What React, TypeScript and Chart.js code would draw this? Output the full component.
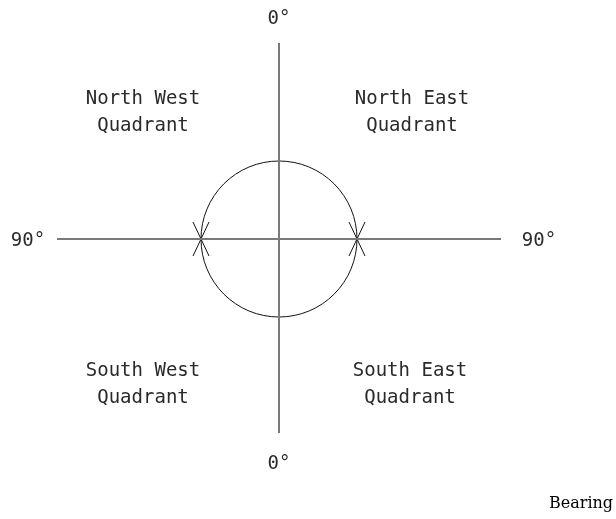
import React, { useEffect, useRef } from "react";
import { Chart, registerables } from "chart.js";

Chart.register(...registerables);

// Data units: origin at the compass centre, y pointing up (1 unit = 1 px)
const xRange = [-279, 337];
const yRange = [-280, 239];

const northSouthAxis = [
  { x: 0, y: 196 },
  { x: 0, y: -194 },
];
const eastWestAxis = [
  { x: -222, y: 0 },
  { x: 222, y: 0 },
];
const circleCentre = [{ x: 0, y: 0 }];
const circleRadius = 78;

const arcMarks = [
  [{ x: -86, y: 17 }, { x: -70, y: -17 }],
  [{ x: -70, y: 17 }, { x: -86, y: -17 }],
  [{ x: 70, y: 17 }, { x: 86, y: -17 }],
  [{ x: 86, y: 17 }, { x: 70, y: -17 }],
];

const quadrantNames = ["North West", "North East", "South West", "South East"];
const quadrantWord = "Quadrant";
const quadrantAnchors = [
  { x: -136, y: 140 },
  { x: 133, y: 140 },
  { x: -136, y: -132 },
  { x: 131, y: -132 },
];

const bearingLabels = ["0°", "0°", "90°", "90°"];
const bearingAnchors = [
  { x: 0, y: 220 },
  { x: 0, y: -225 },
  { x: -251, y: -2 },
  { x: 260, y: -2 },
];

const captionText = "Bearing";
const captionAnchor = { x: 270, y: -269 };

const textPlugin = {
  id: "compassText",
  afterDatasetsDraw(chart: any) {
    const { ctx, scales } = chart;
    const px = (p: { x: number; y: number }) => [
      scales.x.getPixelForValue(p.x),
      scales.y.getPixelForValue(p.y),
    ];
    ctx.save();
    ctx.fillStyle = "#2a2a2a";
    ctx.font = "19px 'DejaVu Sans Mono', monospace";
    ctx.textAlign = "center";
    ctx.textBaseline = "middle";
    quadrantNames.forEach((name, i) => {
      const [x, y] = px(quadrantAnchors[i]);
      ctx.fillText(name, x, y);
      ctx.fillText(quadrantWord, x, y + 27);
    });
    bearingLabels.forEach((lab, i) => {
      const [x, y] = px(bearingAnchors[i]);
      ctx.fillText(lab, x, y);
    });
    ctx.fillStyle = "#000";
    ctx.font = "16px 'DejaVu Serif', serif";
    ctx.textAlign = "left";
    ctx.textBaseline = "alphabetic";
    const [cx, cy] = px(captionAnchor);
    ctx.fillText(captionText, cx, cy);
    ctx.restore();
  },
};

export default function App() {
  const ref = useRef<HTMLCanvasElement | null>(null);

  useEffect(() => {
    if (!ref.current) return;
    const lineDs = (data: any[], color: string, width: number) => ({
      data,
      showLine: true,
      borderColor: color,
      borderWidth: width,
      pointRadius: 0,
      fill: false,
    });
    const chart = new Chart(ref.current, {
      type: "scatter",
      data: {
        datasets: [
          lineDs(northSouthAxis, "#7a7a7a", 2),
          lineDs(eastWestAxis, "#7a7a7a", 2),
          ...arcMarks.map((m) => lineDs(m, "#111", 1)),
          {
            data: circleCentre,
            showLine: false,
            pointStyle: "circle",
            pointRadius: (c: any) => {
              const s = c.chart.scales.x;
              return Math.abs(s.getPixelForValue(circleRadius) - s.getPixelForValue(0));
            },
            backgroundColor: "rgba(0,0,0,0)",
            borderColor: "#111",
            pointBorderWidth: 1,
          } as any,
        ],
      },
      options: {
        animation: false,
        responsive: false,
        maintainAspectRatio: false,
        layout: { padding: 0 },
        events: [],
        plugins: {
          legend: { display: false },
          tooltip: { enabled: false },
          title: { display: false },
        },
        scales: {
          x: { type: "linear", min: xRange[0], max: xRange[1], display: false },
          y: { type: "linear", min: yRange[0], max: yRange[1], display: false },
        },
      },
      plugins: [textPlugin],
    });
    return () => chart.destroy();
  }, []);

  return (
    <div style={{ position: "absolute", left: 0, top: 0, width: 616, height: 519, background: "#fff" }}>
      <canvas ref={ref} width={616} height={519} style={{ display: "block" }} />
    </div>
  );
}
